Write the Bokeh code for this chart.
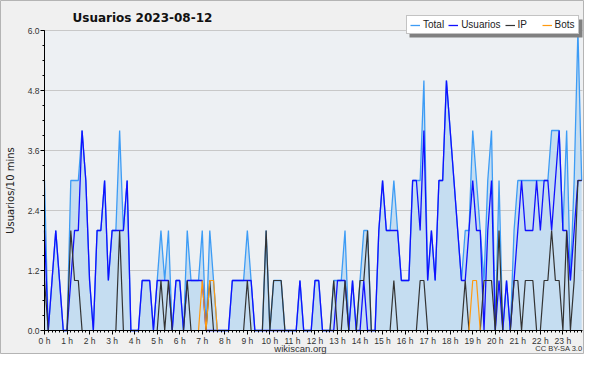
import math
from bokeh.plotting import figure
from bokeh.models import (ColumnDataSource, FixedTicker, Range1d, Legend, LegendItem, Label,
                          BoxAnnotation, LinearAxis)
from bokeh.embed import file_html
from bokeh.resources import INLINE

# 10-minute slots over the day (144 slots)
total = [3,0,1,2,1,0,0,3,3,3,
         4,3,1,0,2,2,3,1,2,2,
         4,2,3,0,0,0,1,1,1,0,
         1,2,1,2,0,1,1,0,2,1,
         1,1,2,0,2,1,0,0,0,0,
         1,1,1,1,2,1,0,0,0,2,
         0,1,1,1,0,0,0,0,1,0,
         0,0,1,1,0,0,0,1,1,1,
         2,0,1,0,1,2,2,0,0,2,
         3,2,2,3,2,1,1,1,3,3,
         3,5,1,2,1,3,3,5,4,3,
         2,1,2,2,4,3,2,1,3,4,
         0,3,0,1,0,2,3,3,3,3,
         3,3,3,3,3,4,4,4,2,4,
         1,3,6,3]
usuarios = [2,0,1,2,1,0,0,1,2,2,
            4,3,1,0,2,2,3,1,2,2,
            2,2,3,0,0,0,1,1,1,0,
            1,1,1,1,0,1,1,0,1,1,
            1,1,1,0,0,0,0,0,0,0,
            1,1,1,1,1,1,0,0,0,0,
            0,0,0,0,0,0,0,0,1,0,
            0,0,1,1,0,0,0,0,1,1,
            1,0,1,0,0,1,0,0,0,2,
            3,2,2,2,2,1,1,1,3,3,
            2,4,1,2,1,3,3,5,4,3,
            2,1,1,2,3,2,2,0,2,3,
            0,1,0,1,0,1,2,3,2,2,
            2,3,2,3,3,2,3,4,2,2,
            1,2,3,3]
ip = [1,0,0,0,0,0,0,2,1,1,
      0,0,0,0,0,0,0,0,0,0,
      2,0,0,0,0,0,0,0,0,0,
      0,1,0,1,0,0,0,0,1,0,
      0,0,0,0,1,0,0,0,0,0,
      0,0,0,0,1,0,0,0,0,2,
      0,1,1,1,0,0,0,0,0,0,
      0,0,0,0,0,0,0,1,0,0,
      1,0,0,0,1,1,2,0,0,0,
      0,0,0,1,0,0,0,0,0,0,
      1,1,0,0,0,0,0,0,0,0,
      0,0,1,0,0,0,0,1,1,1,
      0,2,0,0,0,1,1,0,1,1,
      1,0,0,1,1,2,1,1,0,2,
      0,1,3,3]
bots = [0]*144
for k in (42, 44, 45, 114, 115):
    bots[k] = 1

hour_ticks = list(range(24))
hour_labels = {h: f"{h} h" for h in hour_ticks}
y_ticks = [0.0, 1.2, 2.4, 3.6, 4.8, 6.0]
y_labels = {v: f"{v:.1f}" for v in y_ticks}
Y_MAX = 6.0
X_MAX = 23.87

x = [i / 6 for i in range(len(total))]
src = ColumnDataSource(dict(x=x, total=total, usuarios=usuarios, ip=ip, bots=bots))
grid_src = ColumnDataSource(dict(y=y_ticks[1:]))

FONT = "Liberation Sans"
FW, FH = 584, 354
# pixel geometry of the plotting area inside the full-figure frame
LEFT, RIGHT = 44, 582          # x=0 and x=X_MAX, pixels from frame left
TOP, BOTTOM = 30, 330          # y=6 and y=0, pixels from frame top
px_x = (RIGHT - LEFT) / X_MAX
px_y = (BOTTOM - TOP) / Y_MAX
X_LO, X_HI = -LEFT / px_x, X_MAX + (FW - RIGHT) / px_x
Y_HI, Y_LO = Y_MAX + TOP / px_y, -(FH - BOTTOM) / px_y

p = figure(frame_width=FW, frame_height=FH,
           x_range=Range1d(X_LO, X_HI), y_range=Range1d(Y_LO, Y_HI),
           x_axis_location=None, y_axis_location=None,
           output_backend="svg", toolbar_location=None, min_border=0,
           background_fill_color="#f0f0f0", border_fill_color="#f0f0f0")
p.outline_line_color = "#b4b4b4"
p.xgrid.visible = False
p.ygrid.visible = False

p.add_layout(BoxAnnotation(left=0, right=X_MAX, bottom=0, top=Y_MAX,
                           fill_color="#edf0f3", fill_alpha=1, line_color=None,
                           level="underlay"))

# horizontal grid lines at the y ticks
p.segment(x0=0, x1=X_MAX, y0="y", y1="y", source=grid_src, line_color="#c8c8c8", line_width=1)

# series
p.varea(x="x", y1=0, y2="total", source=src, fill_color="#c5ddf1", fill_alpha=1)
r_t = p.line("x", "total", source=src, line_color="#3d9cf5", line_width=1.3)
r_u = p.line("x", "usuarios", source=src, line_color="#1010ff", line_width=1.3)
r_i = p.line("x", "ip", source=src, line_color="#333333", line_width=1.2)
r_b = p.line("x", "bots", source=src, line_color="#ff9a10", line_width=1.2)

# axes, fixed at the data origin
xaxis = LinearAxis(fixed_location=0, bounds=(0, X_MAX),
                   ticker=FixedTicker(ticks=hour_ticks, minor_ticks=[i / 6 for i in range(144)]),
                   major_label_overrides=hour_labels)
yaxis = LinearAxis(fixed_location=0, bounds=(0, Y_MAX),
                   ticker=FixedTicker(ticks=y_ticks, minor_ticks=[i * 0.3 for i in range(21)]),
                   major_label_overrides=y_labels)
for ax in (xaxis, yaxis):
    ax.axis_line_color = "black"
    ax.major_tick_line_color = "black"
    ax.minor_tick_line_color = "black"
    ax.major_tick_in = 0
    ax.major_tick_out = 4
    ax.minor_tick_in = 0
    ax.minor_tick_out = 2
    ax.major_label_text_font = FONT
    ax.major_label_text_font_size = "8.5px"
    ax.major_label_text_color = "#333333"
    ax.major_label_standoff = 1
p.add_layout(xaxis, "below")
p.add_layout(yaxis, "left")

ylab = Label(x=10, y=FH - 190, x_units="screen", y_units="screen", angle=math.pi / 2,
             text="Usuarios/10 mins", text_font="DejaVu Sans", text_font_size="10px",
             text_color="#222222", text_align="center", text_baseline="middle")
p.add_layout(ylab)

# legend box with a drop shadow
LX, LY = 406, FH - 34
p.add_layout(BoxAnnotation(left=LX + 3, right=LX + 176, bottom=LY - 3, top=LY + 15,
                           left_units="screen", right_units="screen",
                           bottom_units="screen", top_units="screen",
                           fill_color="#808080", fill_alpha=1, line_color=None))
legend = Legend(items=[LegendItem(label="Total", renderers=[r_t]),
                       LegendItem(label="Usuarios", renderers=[r_u]),
                       LegendItem(label="IP", renderers=[r_i]),
                       LegendItem(label="Bots", renderers=[r_b])],
                orientation="horizontal", location=(LX, LY),
                label_text_font=FONT, label_text_font_size="10px",
                label_text_color="#222222",
                glyph_width=10, glyph_height=10, label_standoff=3, spacing=4,
                padding=3, margin=0, label_height=10,
                border_line_color="#888888", border_line_width=1,
                background_fill_color="white", background_fill_alpha=1)
p.add_layout(legend, "center")

title = Label(x=72, y=FH - 17, x_units="screen", y_units="screen",
              text="Usuarios  2023-08-12", text_font="DejaVu Sans", text_font_size="12px",
              text_font_style="bold", text_color="#111111", text_baseline="middle")
p.add_layout(title)

site = Label(x=300, y=FH - 348, x_units="screen", y_units="screen",
             text="wikiscan.org", text_font=FONT, text_font_size="9.5px",
             text_color="#333333", text_align="center", text_baseline="middle")
p.add_layout(site)
cc = Label(x=RIGHT, y=FH - 348, x_units="screen", y_units="screen", text="CC BY-SA 3.0",
           text_align="right", text_baseline="middle", text_font=FONT, text_font_size="7.5px",
           text_color="#333333")
p.add_layout(cc)

open("out.html", "w").write(file_html(p, INLINE))
